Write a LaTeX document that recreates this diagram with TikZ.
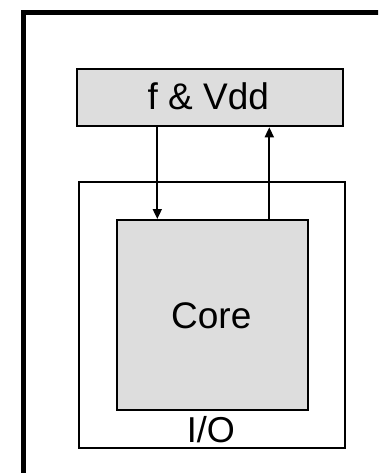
\documentclass[tikz,border=0pt]{standalone}
\usepackage{fontspec}
\setmainfont{Liberation Sans}
\usetikzlibrary{arrows.meta}
\definecolor{boxgray}{RGB}{221,221,221}
\begin{document}
\begin{tikzpicture}[x=1pt,y=-1pt,
  graybox/.style={draw=black,fill=boxgray,line width=2pt,inner sep=0pt,font=\fontsize{37}{40}\selectfont},
  iobox/.style={draw=black,line width=2pt,inner sep=0pt},
  sig/.style={line width=1.8pt,-{Triangle[length=10pt,width=9pt]}}]
\useasboundingbox (0,0) rectangle (378,473);
\clip (0,0) rectangle (378,473);
\fill[white] (0,0) rectangle (378,473);
% outer frame (extends beyond the picture)
\draw[line width=5.5pt] (23.5,500) -- (23.5,12.75) -- (420,12.75);
% I/O box
\node[iobox,minimum width=266pt,minimum height=266pt,anchor=north west] (io) at (77.7,181) {};
\node[font=\fontsize{36}{40}\selectfont,anchor=base] (iolbl) at (210.8,442) {I/O};
% core
\node[graybox,minimum width=190.7pt,minimum height=190.3pt,anchor=north west] (core) at (116,219) {};
\node[font=\fontsize{37}{40}\selectfont,anchor=base] (corelbl) at (211.3,328.3) {Core};
% f & Vdd
\node[graybox,minimum width=265.7pt,minimum height=57.6pt,anchor=north west] (fv) at (76,67.7) {};
\node[font=\fontsize{37}{40}\selectfont,anchor=base] (fvlbl) at (208.3,110) {f \& Vdd};
% arrows
\draw[sig] (fv.south -| 157.3,0) -- (core.north -| 157.3,0);
\draw[sig] (core.north -| 269.3,0) -- (fv.south -| 269.3,0);
\end{tikzpicture}
\end{document}
